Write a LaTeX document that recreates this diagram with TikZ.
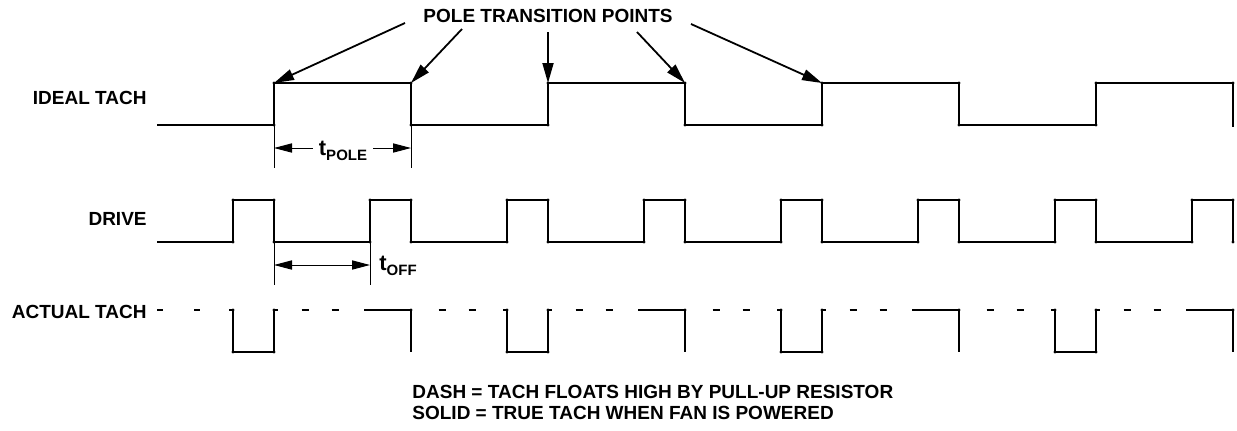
\documentclass[tikz,border=0pt]{standalone}
\usepackage{fontspec}
\setmainfont{Liberation Sans}
\usetikzlibrary{arrows.meta}
\begin{document}
\begin{tikzpicture}[x=0.5pt,y=-0.5pt,
  wave/.style={line width=1.15pt, line join=miter},
  thinline/.style={line width=0.5pt},
  lbl/.style={font=\fontsize{9.5}{11}\selectfont\bfseries, inner sep=0pt},
  polearr/.style={line width=0.9pt, -{Triangle[length=10pt,width=5.5pt]}},
  dimarr/.style={line width=0.5pt, -{Triangle[length=9pt,width=4.6pt]}},
  dimboth/.style={line width=0.5pt, {Triangle[length=9pt,width=4.6pt]}-{Triangle[length=9pt,width=4.6pt]}}
]
\useasboundingbox (0,0) rectangle (1237,430);

% labels
\node[lbl, anchor=east] (ideal) at (147,98) {IDEAL TACH};
\node[lbl, anchor=east] (drive) at (147,219) {DRIVE};
\node[lbl, anchor=east] (actual) at (147,312) {ACTUAL TACH};
\node[lbl] (title) at (548,16) {POLE TRANSITION POINTS};
\node[lbl, anchor=west] (note1) at (412,392) {DASH = TACH FLOATS HIGH BY PULL-UP RESISTOR};
\node[lbl, anchor=west] (note2) at (412,413) {SOLID = TRUE TACH WHEN FAN IS POWERED};

% ideal tach
\draw[wave] (157,125) -- (274,125) -- (274,83) -- (411,83) -- (411,125) -- (548,125) -- (548,83) -- (685,83) -- (685,125) -- (822,125) -- (822,83) -- (959,83) -- (959,125) -- (1096,125) -- (1096,83) -- (1233,83) -- (1233,127);
\foreach \x in {274,411,548,685,822,959,1096} {\fill (\x,83) circle (0.85pt); \fill (\x,125) circle (0.85pt);}
\fill (1233,83) circle (0.85pt);

% named transition points
\coordinate (t1) at (274,83);
\coordinate (t2) at (411,83);
\coordinate (t3) at (548,83);
\coordinate (t4) at (685,83);
\coordinate (t5) at (822,83);
\coordinate (s1) at (405,23);
\coordinate (s2) at (462,29);
\coordinate (s3) at (548,32);
\coordinate (s4) at (637,32);
\coordinate (s5) at (691,24);
\draw[polearr] (s1) -- (t1);
\draw[polearr] (s2) -- (t2);
\draw[polearr] (s3) -- (t3);
\draw[polearr] (s4) -- (t4);
\draw[polearr] (s5) -- (t5);

% drive
\draw[wave] (157,242) \foreach \k in {0,...,7} { -- ({233+137*\k},242) -- ({233+137*\k},200) -- ({274+137*\k},200) -- ({274+137*\k},242) };
\foreach \k in {0,...,7} {
  \fill ({233+137*\k},242) circle (0.85pt);
  \fill ({233+137*\k},200) circle (0.85pt);
  \fill ({274+137*\k},200) circle (0.85pt);
  \fill ({274+137*\k},242) circle (0.85pt);
}

% actual tach
\draw[wave] (157,310) -- (163,310);
\draw[wave] (194,310) -- (200,310);
\foreach \k in {0,...,3} {
  \pgfmathsetmacro\a{233+274*\k}
  \draw[wave] (\a-4,310) -- (\a,310) -- (\a,352) -- (\a+41,352) -- (\a+41,310) -- (\a+45,310);
  \fill (\a,352) circle (0.85pt); \fill (\a+41,352) circle (0.85pt);
  \fill (\a,310) circle (0.85pt); \fill (\a+41,310) circle (0.85pt);
  \draw[wave] (\a+41+27.5,310) -- (\a+41+34.5,310);
  \draw[wave] (\a+41+57.5,310) -- (\a+41+64.5,310);
  \draw[wave] (\a+131,310) -- (\a+178,310) -- (\a+178,352);
  \fill (\a+178,310) circle (0.85pt);
}
\foreach \k in {0,...,2} {
  \pgfmathsetmacro\e{411+274*\k}
  \draw[wave] (\e+27.5,310) -- (\e+34.5,310);
  \draw[wave] (\e+57.5,310) -- (\e+64.5,310);
}

% t_POLE dimension
\draw[thinline] (274,125) -- (274,168);
\draw[thinline] (411,125) -- (411,168);
\coordinate (pl) at (274,148);
\coordinate (pr) at (411,148);
\node[lbl, anchor=base] (tpole) at (343,155) {{\fontsize{11}{12}\selectfont t}\raisebox{-2.5pt}{\fontsize{7.5}{8}\selectfont POLE}};
\draw[dimarr] ([xshift=-3pt]tpole.west |- pl) -- (pl);
\draw[dimarr] ([xshift=3pt]tpole.east |- pr) -- (pr);

% t_OFF dimension
\draw[thinline] (274,242) -- (274,285);
\draw[thinline] (370,242) -- (370,285);
\coordinate (ol) at (274,265);
\coordinate (or) at (370,265);
\draw[dimboth] (ol) -- (or);
\node[lbl, anchor=base west] (toff) at (379,270) {{\fontsize{11}{12}\selectfont t}\raisebox{-2.5pt}{\fontsize{7.5}{8}\selectfont OFF}};
\end{tikzpicture}
\end{document}
